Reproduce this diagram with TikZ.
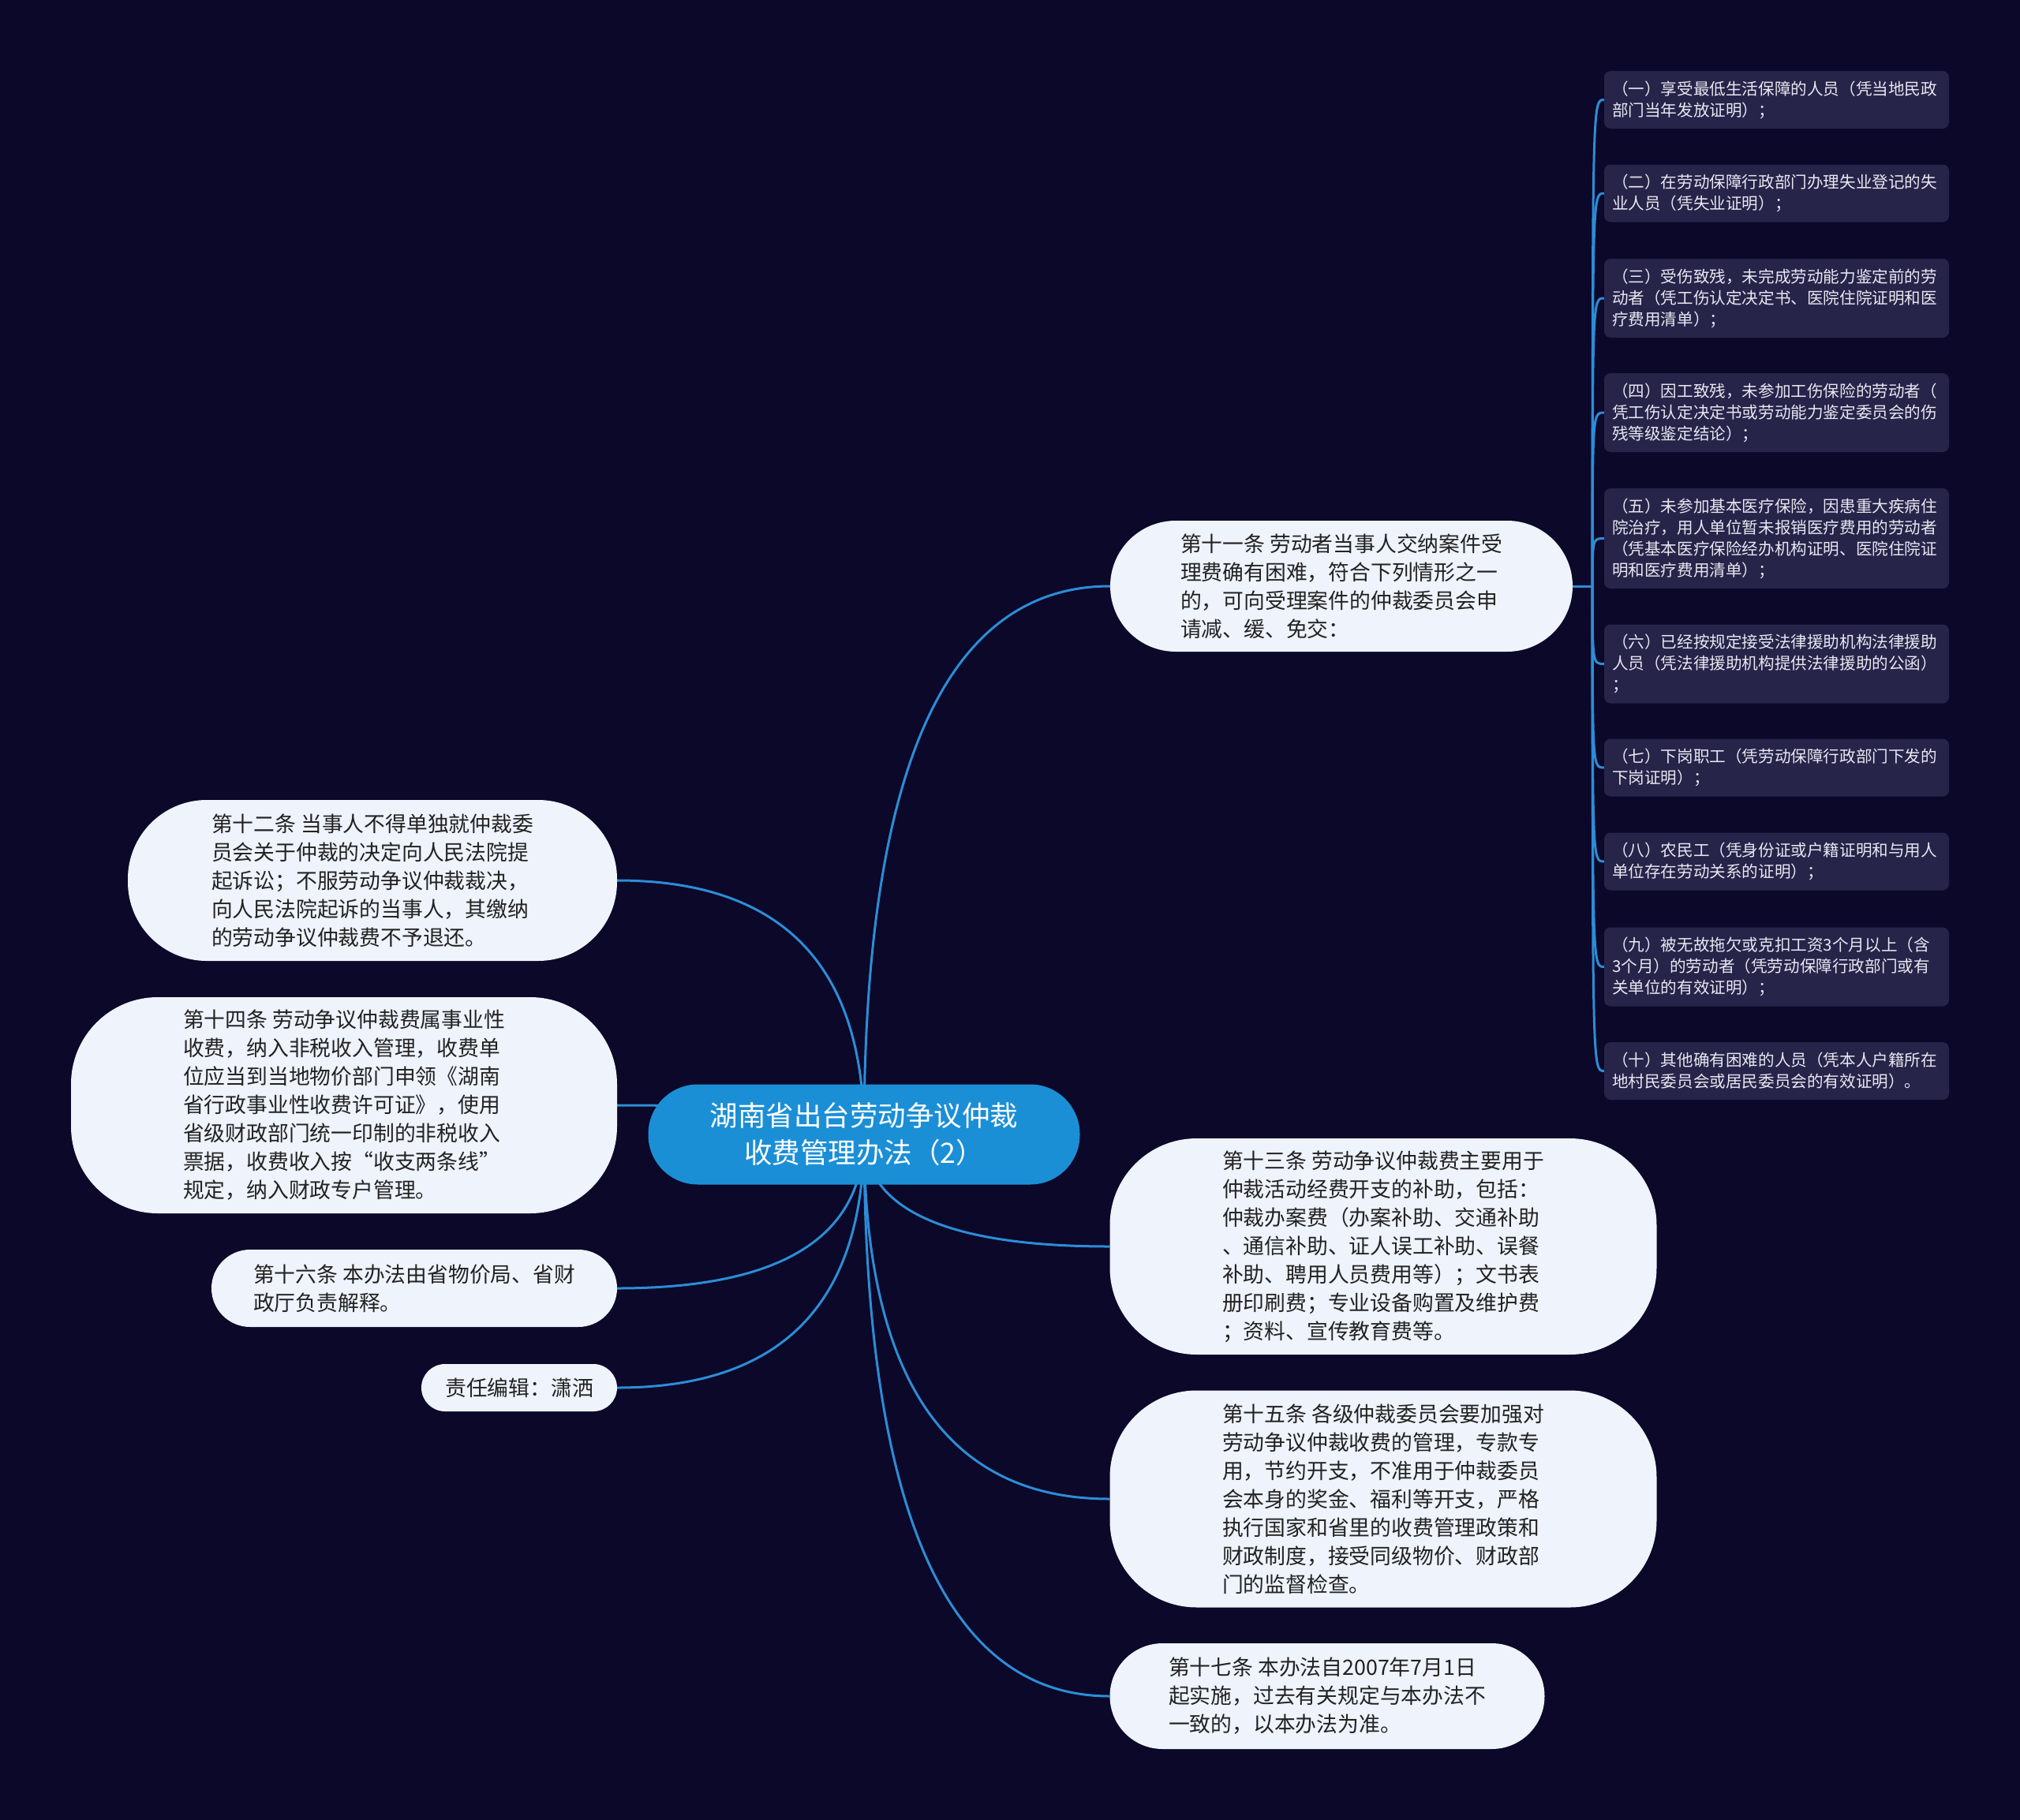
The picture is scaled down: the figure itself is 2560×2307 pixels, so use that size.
\documentclass[tikz,border=0pt]{standalone}
\usepackage{fontspec}
\newfontfamily\cjk{Noto Sans CJK SC}
\usetikzlibrary{calc}
\definecolor{bgnavy}{HTML}{0B0829}
\definecolor{rootblue}{HTML}{1B8FD6}
\definecolor{linkblue}{HTML}{2C8DD6}
\definecolor{topicfill}{HTML}{EEF3FC}
\definecolor{topictext}{HTML}{222222}
\definecolor{leaffill}{HTML}{262449}
\definecolor{leaftext}{HTML}{E8E8F2}
\pgfdeclarelayer{canvas}
\pgfdeclarelayer{links}
\pgfsetlayers{canvas,links,main}

\tikzset{
  rootnode/.style={fill=rootblue, text=white, align=center, inner sep=0pt,
    minimum width=547pt, minimum height=127pt, rounded corners=63pt,
    font=\cjk\fontsize{35.5}{47}\selectfont},
  topic/.style={fill=topicfill, text=topictext, align=left, inner sep=0pt,
    font=\cjk\fontsize{26.8}{36}\selectfont},
  caseitem/.style={fill=leaffill, text=leaftext, align=left, inner xsep=10pt,
    inner ysep=0pt, text width=417pt, rounded corners=8pt,
    font=\cjk\fontsize{20.6}{27}\selectfont},
  linkline/.style={draw=linkblue, line width=3pt},
}

\begin{document}
\begin{tikzpicture}[x=1pt,y=-1pt]
  \begin{pgfonlayer}{canvas}
    \fill[bgnavy] (0,0) rectangle (2560,2307);
  \end{pgfonlayer}

  \node[rootnode] (root) at (1095,1438) {湖南省出台劳动争议仲裁\\收费管理办法（2）};

  % right side
  \node[topic, minimum width=586pt, minimum height=166pt, rounded corners=83pt]
    (art11) at (1700,743) {第十一条 劳动者当事人交纳案件受\\理费确有困难，符合下列情形之一\\的，可向受理案件的仲裁委员会申\\请减、缓、免交：};
  \node[topic, minimum width=693pt, minimum height=274pt, rounded corners=110pt]
    (art13) at (1753,1580) {第十三条 劳动争议仲裁费主要用于\\仲裁活动经费开支的补助，包括：\\仲裁办案费（办案补助、交通补助\\、通信补助、证人误工补助、误餐\\补助、聘用人员费用等）；文书表\\册印刷费；专业设备购置及维护费\\；资料、宣传教育费等。};
  \node[topic, minimum width=693pt, minimum height=275pt, rounded corners=110pt]
    (art15) at (1753,1900) {第十五条 各级仲裁委员会要加强对\\劳动争议仲裁收费的管理，专款专\\用，节约开支，不准用于仲裁委员\\会本身的奖金、福利等开支，严格\\执行国家和省里的收费管理政策和\\财政制度，接受同级物价、财政部\\门的监督检查。};
  \node[topic, minimum width=551pt, minimum height=134pt, rounded corners=67pt]
    (art17) at (1682,2150) {第十七条 本办法自2007年7月1日\\起实施，过去有关规定与本办法不\\一致的，以本办法为准。};

  % left side
  \node[topic, minimum width=620pt, minimum height=204pt, rounded corners=100pt]
    (art12) at (472,1116) {第十二条 当事人不得单独就仲裁委\\员会关于仲裁的决定向人民法院提\\起诉讼；不服劳动争议仲裁裁决，\\向人民法院起诉的当事人，其缴纳\\的劳动争议仲裁费不予退还。};
  \node[topic, minimum width=692pt, minimum height=274pt, rounded corners=110pt]
    (art14) at (436,1401) {第十四条 劳动争议仲裁费属事业性\\收费，纳入非税收入管理，收费单\\位应当到当地物价部门申领《湖南\\省行政事业性收费许可证》，使用\\省级财政部门统一印制的非税收入\\票据，收费收入按“收支两条线”\\规定，纳入财政专户管理。};
  \node[topic, minimum width=514pt, minimum height=98pt, rounded corners=49pt]
    (art16) at (525,1633) {第十六条 本办法由省物价局、省财\\政厅负责解释。};
  \node[topic, minimum width=248pt, minimum height=60pt, rounded corners=30pt]
    (editor) at (658,1759) {责任编辑：潇洒};

  % cases under article 11
  \node[caseitem, minimum height=73pt] (case1) at (2251.5,126.5) {（一）享受最低生活保障的人员（凭当地民政\\部门当年发放证明）；};
  \node[caseitem, minimum height=73pt] (case2) at (2251.5,245) {（二）在劳动保障行政部门办理失业登记的失\\业人员（凭失业证明）；};
  \node[caseitem, minimum height=100pt] (case3) at (2251.5,378) {（三）受伤致残，未完成劳动能力鉴定前的劳\\动者（凭工伤认定决定书、医院住院证明和医\\疗费用清单）；};
  \node[caseitem, minimum height=100pt] (case4) at (2251.5,523) {（四）因工致残，未参加工伤保险的劳动者（\\凭工伤认定决定书或劳动能力鉴定委员会的伤\\残等级鉴定结论）；};
  \node[caseitem, minimum height=127pt] (case5) at (2251.5,682.5) {（五）未参加基本医疗保险，因患重大疾病住\\院治疗，用人单位暂未报销医疗费用的劳动者\\（凭基本医疗保险经办机构证明、医院住院证\\明和医疗费用清单）；};
  \node[caseitem, minimum height=100pt] (case6) at (2251.5,841.5) {（六）已经按规定接受法律援助机构法律援助\\人员（凭法律援助机构提供法律援助的公函）\\；};
  \node[caseitem, minimum height=73pt] (case7) at (2251.5,973) {（七）下岗职工（凭劳动保障行政部门下发的\\下岗证明）；};
  \node[caseitem, minimum height=73pt] (case8) at (2251.5,1092) {（八）农民工（凭身份证或户籍证明和与用人\\单位存在劳动关系的证明）；};
  \node[caseitem, minimum height=100pt] (case9) at (2251.5,1225.5) {（九）被无故拖欠或克扣工资3个月以上（含\\3个月）的劳动者（凭劳动保障行政部门或有\\关单位的有效证明）；};
  \node[caseitem, minimum height=73pt] (case10) at (2251.5,1357.5) {（十）其他确有困难的人员（凭本人户籍所在\\地村民委员会或居民委员会的有效证明）。};

  \coordinate (hub) at ($(art11.east)+(25,0)$);

  \begin{pgfonlayer}{links}
    \foreach \kid/\side in {art11/west, art13/west, art15/west, art17/west,
                            art12/east, art14/east, art16/east, editor/east}
      \draw[linkline] (root.center)
        .. controls ($(root.center)!0.667!(root.center |- \kid.\side)$)
        and ($(\kid.\side)!0.667!(root.center |- \kid.\side)$) .. (\kid.\side);
    \draw[linkline] (art11.east) -- (hub);
    \foreach \n in {1,...,10}
      \draw[linkline] (hub) .. controls (hub |- case\n.west)
        and (hub |- case\n.west) .. (case\n.west);
  \end{pgfonlayer}
\end{tikzpicture}
\end{document}
